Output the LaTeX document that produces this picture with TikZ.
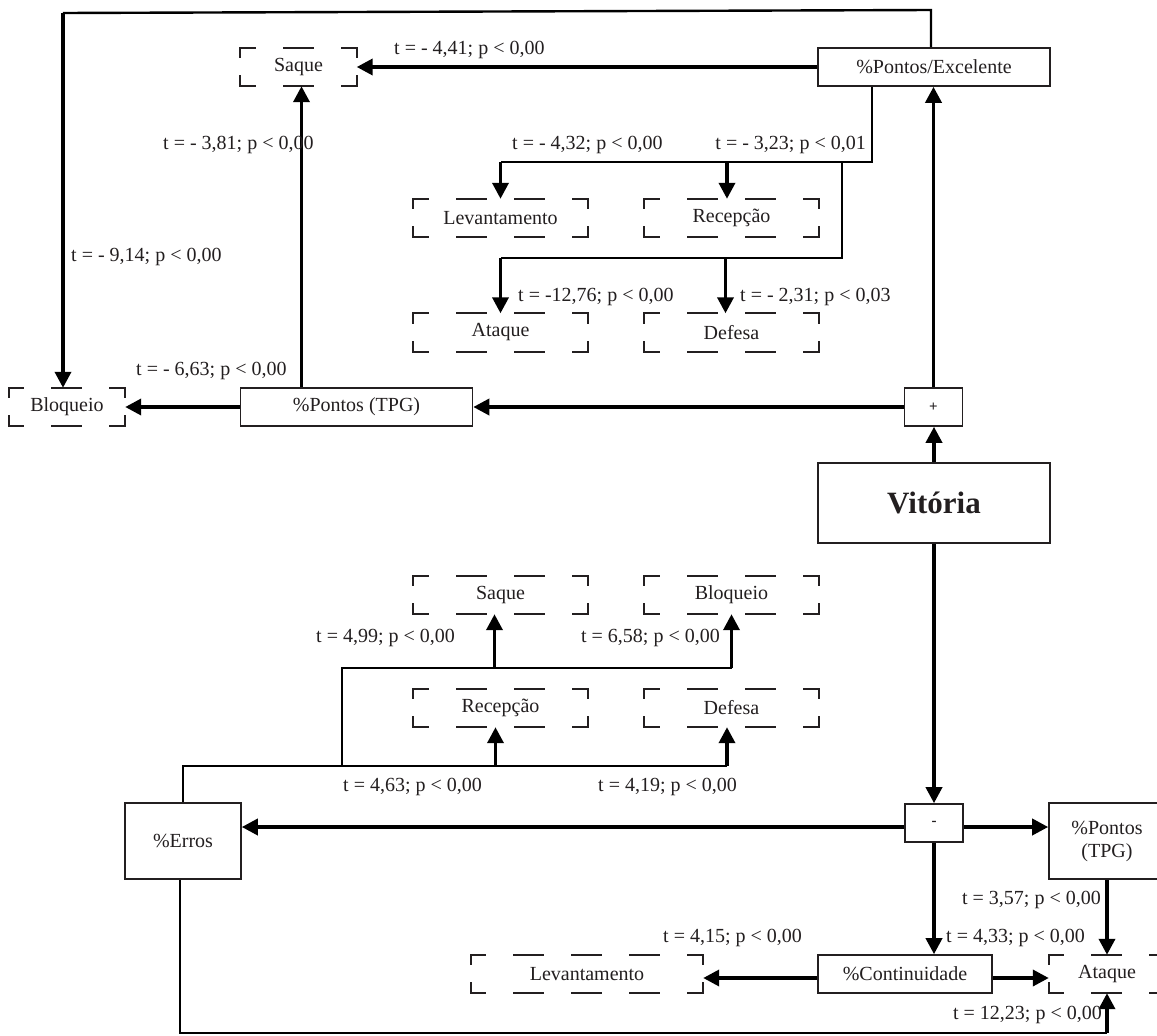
\documentclass[tikz,border=0pt]{standalone}
\usepackage{fontspec}
\setmainfont{Liberation Serif}
\usetikzlibrary{arrows.meta}
\definecolor{ink}{HTML}{231F20}
\newcommand\mydbox[5]{%
  \node[dnode, minimum width=#4pt] (#1) at (#2,#3) {#5};
  \draw[hd] (#1.north west) -- (#1.north east);
  \draw[hd] (#1.south west) -- (#1.south east);
  \draw[vd] (#1.north west) -- (#1.south west);
  \draw[vd] (#1.north east) -- (#1.south east);
}
\tikzset{
  txt/.style={font=\fontsize{20}{23}\selectfont, text=ink},
  sbox/.style={txt, draw=ink, line width=1.6pt, minimum height=38pt, inner sep=0pt, align=center},
  signbox/.style={sbox, minimum width=58pt, font=\bfseries\fontsize{15}{17}\selectfont},
  dnode/.style={txt, minimum height=38pt, inner sep=0pt},
  hd/.style={draw=ink, line width=1.8pt, dash pattern=on 29pt off 29pt, dash phase=14.5pt, line cap=rect},
  vd/.style={draw=ink, line width=1.8pt, dash pattern=on 19pt off 19pt, dash phase=9.5pt, line cap=rect},
  lab/.style={txt, inner sep=0pt},
  conn/.style={draw=black, line width=3.6pt, -{Triangle[length=16pt,width=16pt]}},
  thinl/.style={draw=black, line width=1.8pt},
  loopl/.style={draw=black, line width=2.4pt},
}
\begin{document}
\begin{tikzpicture}[x=1pt,y=-1pt]
\fill[white] (0,0) rectangle (1157,1036);
\useasboundingbox (0,0) rectangle (1157,1036);

% solid boxes
\node[sbox, minimum width=232pt] (PE) at (934,67) {\%Pontos/Excelente};
\node[sbox, minimum width=232pt] (TPG1) at (356.5,407) {\%Pontos (TPG)};
\node[signbox] (plus) at (933.5,407) {+};
\node[sbox, minimum width=232pt, minimum height=80pt, font=\bfseries\fontsize{31}{35}\selectfont] (Vit) at (934,503) {Vitória};
\node[signbox] (minus) at (934,823) {-};
\node[sbox, minimum width=116pt, minimum height=76pt] (Erros) at (183,841) {\%Erros};
\node[sbox, minimum width=116pt, minimum height=76pt] (TPG2) at (1107,841) {\%Pontos\\(TPG)};
\node[sbox, minimum width=174pt] (Cont) at (905,974) {\%Continuidade};

% dashed boxes
\mydbox{Saque1}{298.5}{67}{116}{Saque}
\mydbox{Lev1}{500.5}{218}{174}{Levantamento}
\mydbox{Rec1}{731.5}{218}{174}{Recepção}
\mydbox{Ata1}{500.5}{332.5}{174}{Ataque}
\mydbox{Def1}{731.5}{332.5}{174}{Defesa}
\mydbox{Bloq1}{67}{407}{116}{Bloqueio}
\mydbox{Saque2}{500.5}{595}{174}{Saque}
\mydbox{Bloq2}{731.5}{595}{174}{Bloqueio}
\mydbox{Rec2}{500.5}{708}{174}{Recepção}
\mydbox{Def2}{731.5}{708}{174}{Defesa}
\mydbox{Lev2}{587}{974}{232}{Levantamento}
\mydbox{Ata2}{1107}{974}{116}{Ataque}

% helper coordinates
\coordinate (tl1) at (931,10);
\coordinate (tl2) at (63,13);
\coordinate (b1) at (872,162);
\coordinate (b2) at (842,258);
\coordinate (r1t) at ([xshift=-4.5pt]Rec1.north);
\coordinate (d1t) at ([xshift=-6pt]Def1.north);
\coordinate (s1b) at ([xshift=3pt]Saque1.south);
\coordinate (e1) at (183,766);
\coordinate (e2) at (342,668);
\coordinate (r2b) at ([xshift=-5pt]Rec2.south);
\coordinate (d2b) at ([xshift=-4.5pt]Def2.south);
\coordinate (s2b) at ([xshift=-6pt]Saque2.south);
\coordinate (mw) at ([yshift=-4pt]minus.west);
\coordinate (cw) at ([yshift=-4pt]Cont.west);
\coordinate (bl) at (180,1033);

% top loop to Bloqueio
\draw[loopl] (PE.north -| tl1) -- (tl1) -- (tl2);
\draw[conn] (tl2) -- (tl2 |- Bloq1.north);

% upper main connectors
\draw[conn] (PE.west) -- (Saque1.east);
\draw[conn] (TPG1.north -| s1b) -- (s1b);
\draw[conn] (TPG1.west) -- (Bloq1.east);
\draw[conn] (plus.west) -- (TPG1.east);
\draw[conn] (Vit.north) -- (Vit.north |- plus.south);
\draw[conn] (plus.north) -- (plus.north |- PE.south);

% upper branches
\draw[thinl] (PE.south -| b1) -- (b1) -- (b1 -| Lev1.north);
\draw[conn] (b1 -| Lev1.north) -- (Lev1.north);
\draw[conn] (b1 -| r1t) -- (r1t);
\draw[thinl] (b1 -| b2) -- (b2) -- (b2 -| Ata1.north);
\draw[conn] (b2 -| Ata1.north) -- (Ata1.north);
\draw[conn] (b2 -| d1t) -- (d1t);

% lower main connectors
\draw[conn] (Vit.south) -- (Vit.south |- minus.north);
\draw[conn] (mw) -- (mw -| Erros.east);
\draw[conn] (mw -| minus.east) -- (mw -| TPG2.west);
\draw[conn] (minus.south) -- (minus.south |- Cont.north);
\draw[conn] (cw) -- (cw -| Lev2.east);
\draw[conn] (cw -| Cont.east) -- (cw -| Ata2.west);
\draw[conn] (TPG2.south) -- (Ata2.north);

% lower branches
\draw[thinl] (Erros.north) -- (Erros.north |- e1) -- (e1 -| d2b);
\draw[conn] (e1 -| r2b) -- (r2b);
\draw[conn] (e1 -| d2b) -- (d2b);
\draw[thinl] (e2 |- e1) -- (e2) -- (e2 -| Bloq2.south);
\draw[conn] (e2 -| s2b) -- (s2b);
\draw[conn] (e2 -| Bloq2.south) -- (Bloq2.south);

% bottom loop
\draw[loopl] (Erros.south -| bl) -- (bl) -- (bl -| Ata2.south);
\draw[conn] (bl -| Ata2.south) -- (Ata2.south);

% labels
\node[lab, anchor=west] (L441) at (394,50) {t = - 4,41; p < 0,00};
\node[lab, anchor=west] (L381) at (163,145) {t = - 3,81; p < 0,00};
\node[lab, anchor=west] (L432) at (512,145) {t = - 4,32; p < 0,00};
\node[lab, anchor=east] (L323) at (866,145) {t = - 3,23; p < 0,01};
\node[lab, anchor=west] (L914) at (71,257) {t = - 9,14; p < 0,00};
\node[lab, anchor=west] (L1276) at (518,297) {t = -12,76; p < 0,00};
\node[lab, anchor=west] (L231) at (740,297) {t = - 2,31; p < 0,03};
\node[lab, anchor=west] (L663) at (136,371) {t = - 6,63; p < 0,00};
\node[lab, anchor=west] (L499) at (316,638) {t = 4,99; p < 0,00};
\node[lab, anchor=east] (L658) at (720,638) {t = 6,58; p < 0,00};
\node[lab, anchor=west] (L463) at (343,787) {t = 4,63; p < 0,00};
\node[lab, anchor=west] (L419) at (598,787) {t = 4,19; p < 0,00};
\node[lab, anchor=east] (L357) at (1101,900) {t = 3,57; p < 0,00};
\node[lab, anchor=west] (L433) at (946,938) {t = 4,33; p < 0,00};
\node[lab, anchor=west] (L415) at (663,938) {t = 4,15; p < 0,00};
\node[lab, anchor=east] (L1223) at (1102,1015) {t = 12,23; p < 0,00};
\end{tikzpicture}
\end{document}
